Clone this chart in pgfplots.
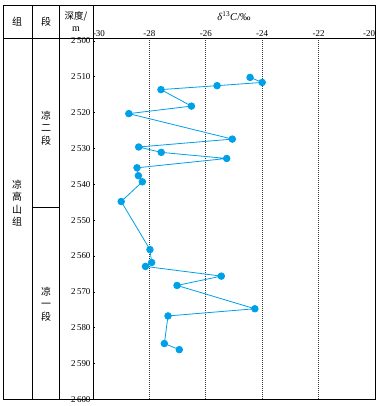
\documentclass[border=0pt]{standalone}
\usepackage{fontspec}
\setmainfont{Liberation Serif}
\newfontfamily\cjk{Noto Sans CJK SC}
\usepackage{pgfplots}
\pgfplotsset{compat=1.18}
\definecolor{pt}{RGB}{0,160,233}
\begin{document}
\begin{tikzpicture}[x=1bp,y=1bp]
\path[use as bounding box] (0,0) rectangle (380,-406);
\begin{axis}[at={(93bp,-38.3bp)}, anchor=north west, scale only axis,
  width=282bp, height=361.2bp,
  xmin=-30, xmax=-20, ymin=2499.3, ymax=2600, y dir=reverse,
  axis line style={line width=0.8bp},
  xtick={-28,-26,-24,-22}, xticklabel pos=upper,
  extra x ticks={-30,-20},
  extra x tick labels={\makebox[0pt][l]{-30},\makebox[0pt][r]{-20}},
  extra x tick style={grid=none},
  xmajorgrids, major x grid style={black!80, line width=0.7bp, dash pattern=on 0.6bp off 1.4bp},
  x tick style={draw=none},
  ytick={2500,2510,...,2600}, ytick pos=left, tick align=inside,
  major tick length=2.5bp, y tick style={black, line width=0.6bp},
  /pgf/number format/assume math mode=true,
  /pgf/number format/1000 sep={\,},
  tick label style={font=\fontsize{9}{10}\selectfont},
  xticklabel style={yshift=-2bp},
  yticklabel style={xshift=1bp},
]
\addplot[color=pt, line width=0.8bp, mark=*, mark size=3.3bp, mark options={fill=pt, draw=pt}] table {
x y
-24.43 2510.2
-24.00 2511.6
-25.60 2512.5
-27.59 2513.6
-26.51 2518.2
-28.73 2520.3
-25.06 2527.4
-28.38 2529.6
-27.58 2531.1
-25.26 2532.8
-28.44 2535.4
-28.39 2537.6
-28.25 2539.3
-29.00 2544.8
-27.98 2558.2
-27.92 2561.8
-28.14 2562.9
-25.45 2565.6
-27.02 2568.2
-24.26 2574.7
-27.34 2576.7
-27.47 2584.4
-26.94 2586.1
};
\end{axis}
\draw[line width=0.8bp] (3,-5.5) rectangle (375,-399.5);
\draw[line width=0.8bp] (3,-38.3) -- (93,-38.3);
\draw[line width=0.8bp] (32.5,-5.5) -- (32.5,-399.5);
\draw[line width=0.8bp] (59.5,-5.5) -- (59.5,-399.5);
\draw[line width=0.8bp] (93,-5.5) -- (93,-38.3);
\draw[line width=0.6bp] (32.5,-207.3) -- (59.5,-207.3);
\node[font=\cjk\fontsize{10}{12}\selectfont] at (17,-22) {组};
\node[font=\cjk\fontsize{10}{12}\selectfont] at (46,-22) {段};
\node[font=\cjk\fontsize{9.5}{11}\selectfont] at (76,-16) {深度/};
\node[font=\fontsize{10}{11}\selectfont] at (76,-29.5) {m};
\node[font=\fontsize{10.5}{12}\selectfont] at (234,-16) {\textit{δ}\textsuperscript{13}\textit{C}/‰};
\node[font=\cjk\fontsize{10}{12.5}\selectfont, align=center] at (46,-128) {凉\\二\\段};
\node[font=\cjk\fontsize{10}{12.5}\selectfont, align=center] at (46,-304) {凉\\一\\段};
\node[font=\cjk\fontsize{10}{12.5}\selectfont, align=center] at (17,-203) {凉\\高\\山\\组};
\end{tikzpicture}
\end{document}
